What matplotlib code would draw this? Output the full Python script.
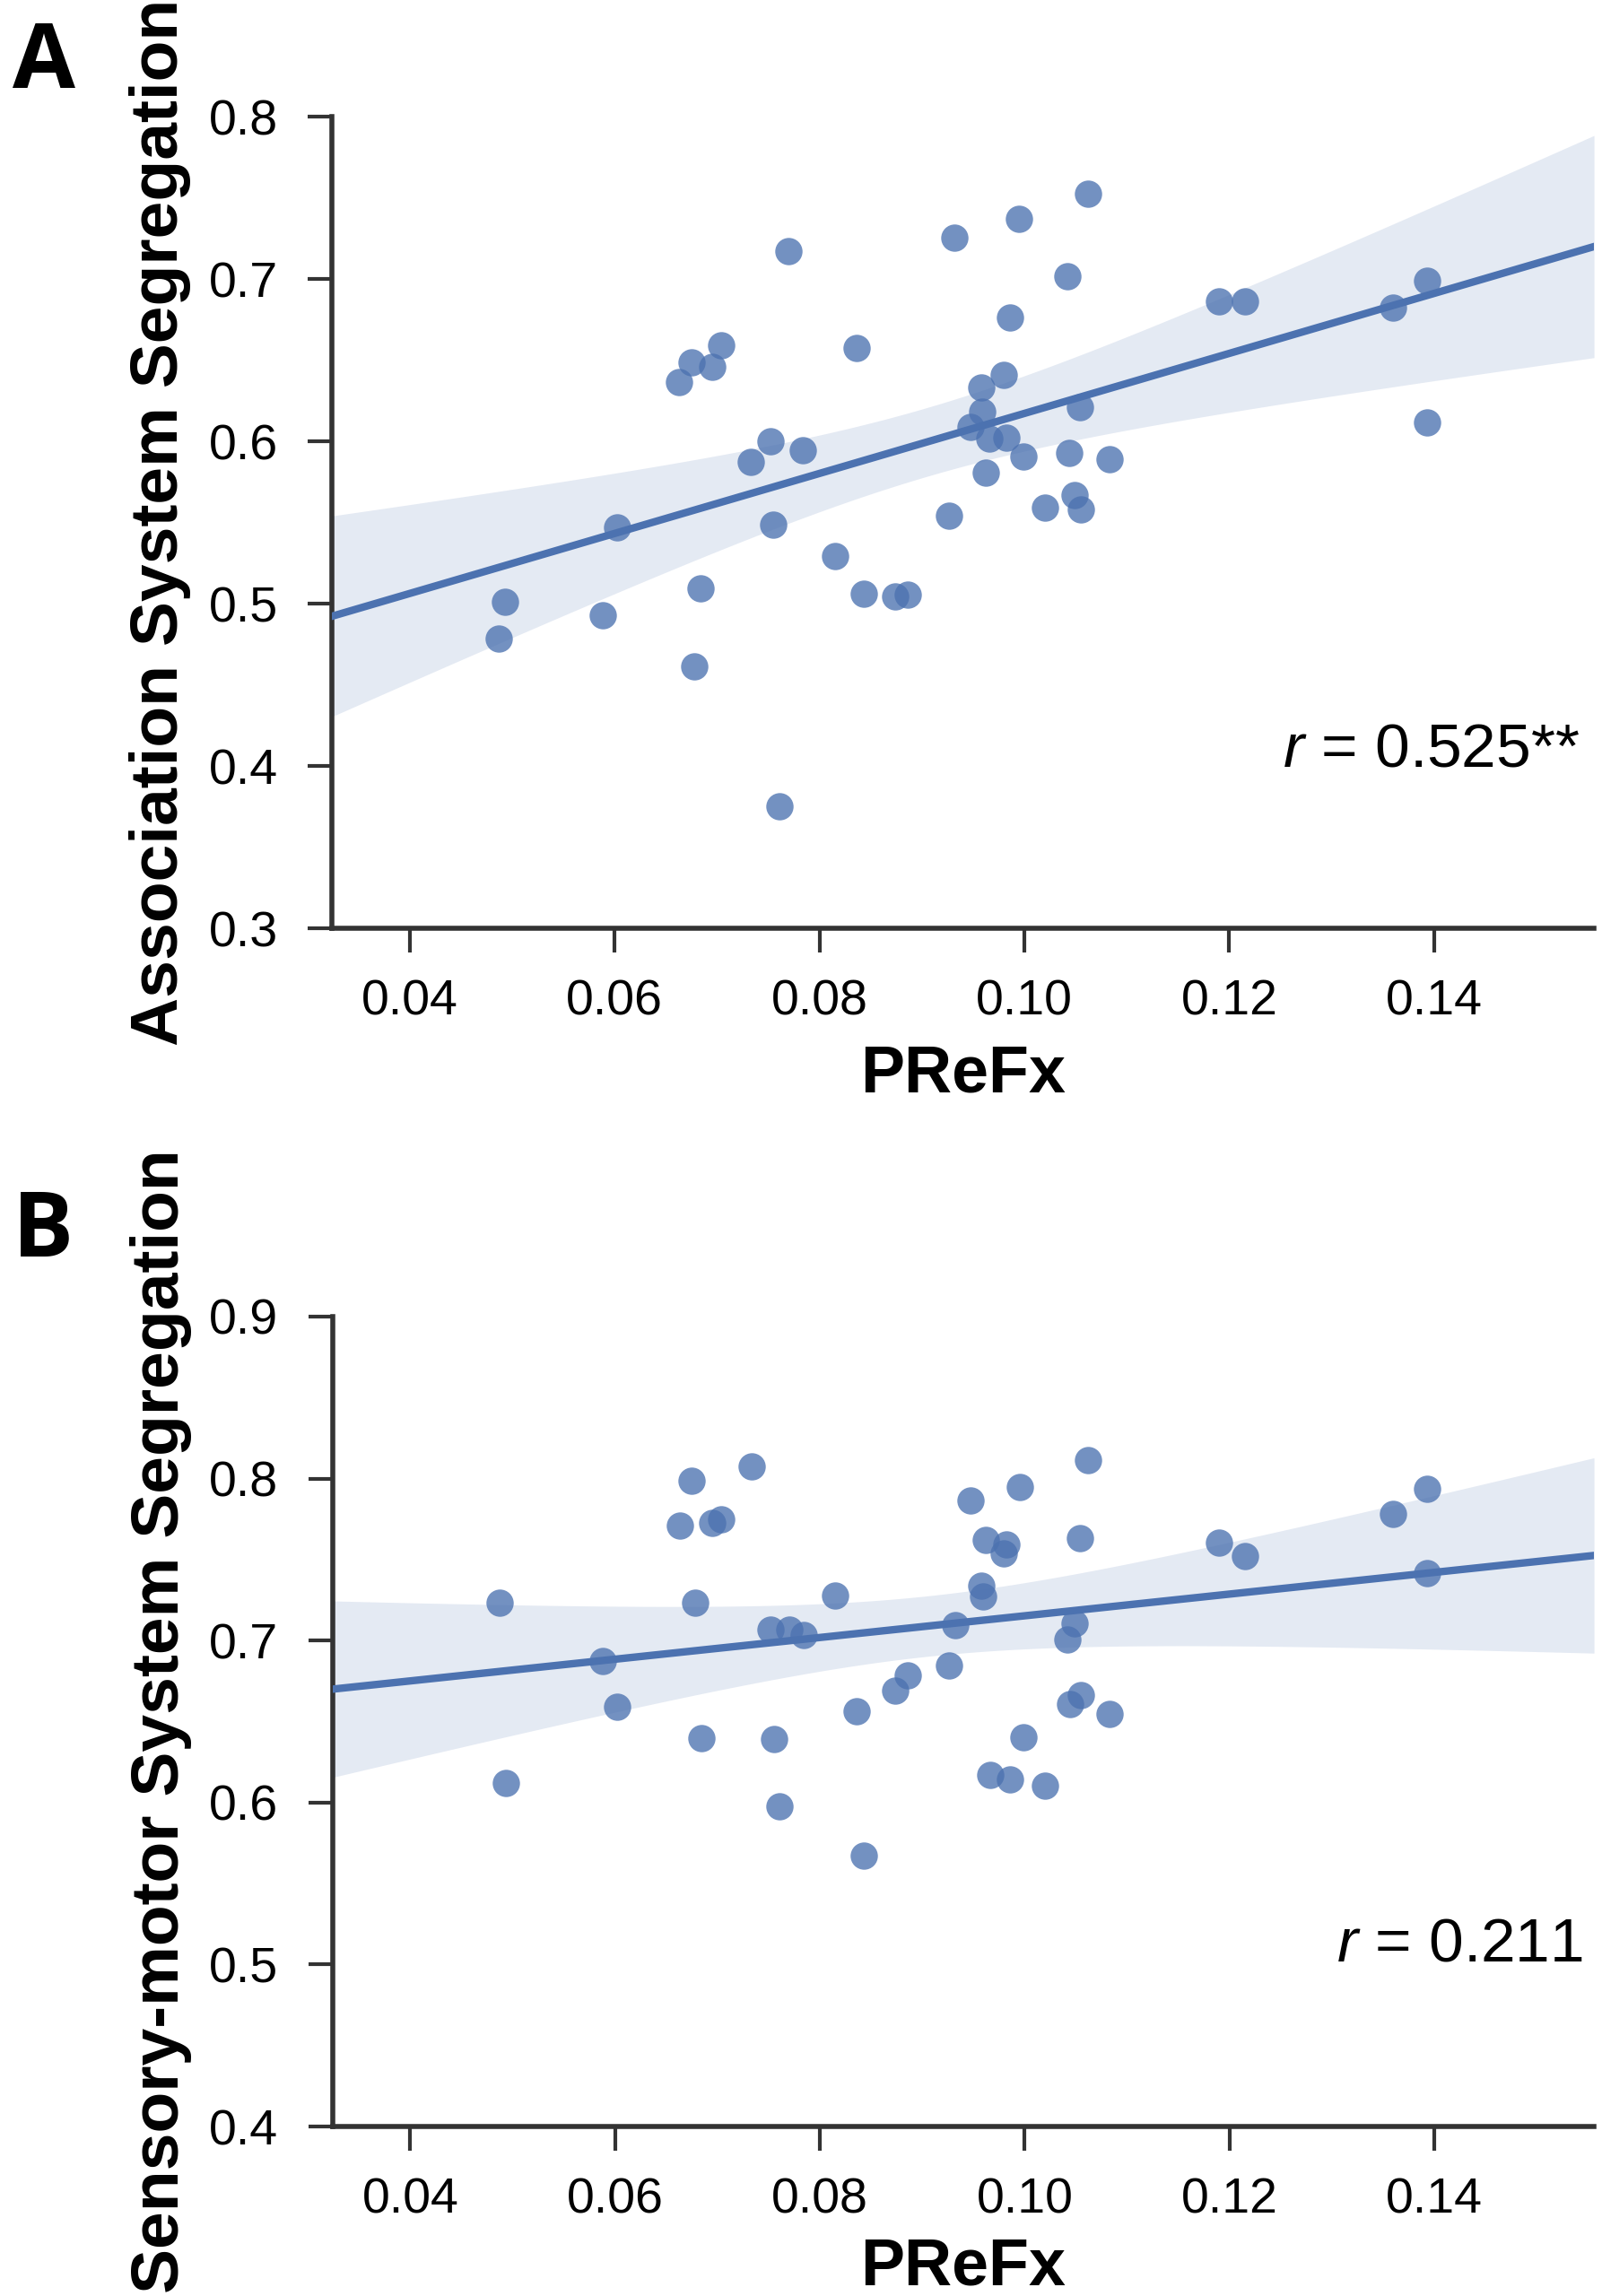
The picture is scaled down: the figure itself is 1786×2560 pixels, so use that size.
"""Two-panel scatter: PReFx vs. system segregation with regression fit and 95% CI."""

import matplotlib

matplotlib.use("Agg")
import matplotlib.pyplot as plt
import numpy as np

# PReFx per subject (shared by both panels)
prefx = [
    0.0487, 0.0493, 0.0588, 0.0602, 0.0663, 0.0675, 0.0678, 0.0684, 0.0695, 0.0704,
    0.0733, 0.0752, 0.0755, 0.0761, 0.0770, 0.0784, 0.0815, 0.0836, 0.0843, 0.0874,
    0.0886, 0.0926, 0.0932, 0.0947, 0.0958, 0.0959, 0.0962, 0.0966, 0.0980, 0.0982,
    0.0986, 0.0995, 0.0999, 0.1020, 0.1042, 0.1044, 0.1049, 0.1054, 0.1055, 0.1062,
    0.1083, 0.1190, 0.1215, 0.1360, 0.1393, 0.1393,
]

# Panel A: association system segregation
assoc_seg = [
    0.4785, 0.5013, 0.4929, 0.5468, 0.6366, 0.6486, 0.4614, 0.5093, 0.6460, 0.6593,
    0.5873, 0.6000, 0.5488, 0.3754, 0.7169, 0.5947, 0.5294, 0.6577, 0.5063, 0.5046,
    0.5053, 0.5539, 0.7257, 0.6091, 0.6332, 0.6182, 0.5806, 0.6017, 0.6409, 0.6024,
    0.6764, 0.7370, 0.5907, 0.5589, 0.7019, 0.5930, 0.5666, 0.6208, 0.5582, 0.7524,
    0.5887, 0.6861, 0.6861, 0.6821, 0.6989, 0.6118,
]

# Panel B: sensory-motor system segregation
sensmot_seg = [
    0.7235, 0.6121, 0.6872, 0.6592, 0.7709, 0.7986, 0.7232, 0.6398, 0.7727, 0.7747,
    0.8076, 0.7069, 0.6391, 0.5979, 0.7069, 0.7035, 0.7280, 0.6561, 0.5671, 0.6689,
    0.6785, 0.6844, 0.7093, 0.7862, 0.7339, 0.7270, 0.7623, 0.6173, 0.7536, 0.7595,
    0.6145, 0.7948, 0.6401, 0.6104, 0.7007, 0.6609, 0.7107, 0.7633, 0.6664, 0.8114,
    0.6547, 0.7606, 0.7522, 0.7779, 0.7938, 0.7415,
]

panels = [
    ("A", assoc_seg, "Association System Segregation", (0.3, 0.8), "$r$ = 0.525**"),
    ("B", sensmot_seg, "Sensory-motor System Segregation", (0.4, 0.9), "$r$ = 0.211"),
]

XLIM = (0.0324, 0.1556)
XTICKS = [0.04, 0.06, 0.08, 0.10, 0.12, 0.14]
T_975 = 2.015  # t critical value, df = 44

COLOR = "#4C72B0"
SPINE = "#333333"

plt.rcParams["font.family"] = ["Liberation Sans", "DejaVu Sans"]
plt.rcParams["mathtext.fontset"] = "custom"
plt.rcParams["mathtext.it"] = "Liberation Sans:italic"
plt.rcParams["mathtext.rm"] = "Liberation Sans"


def fit_with_ci(x, y, grid):
    """OLS line and 95% confidence band for the mean response."""
    x = np.asarray(x)
    y = np.asarray(y)
    n = len(x)
    slope, intercept = np.polyfit(x, y, 1)
    resid = y - (slope * x + intercept)
    s = np.sqrt(np.sum(resid**2) / (n - 2))
    sxx = np.sum((x - x.mean()) ** 2)
    fit = slope * grid + intercept
    half = T_975 * s * np.sqrt(1.0 / n + (grid - x.mean()) ** 2 / sxx)
    return fit, fit - half, fit + half


fig = plt.figure(figsize=(17.86, 25.6), dpi=100)
axes_rects = [
    [0.2072, 0.5957, 0.7878, 0.3535],
    [0.2075, 0.0738, 0.7875, 0.3528],
]
letter_y = [1 - 98 / 2560, 1 - 1401 / 2560]
r_pos = [(0.989, 0.199), (0.991, 0.204)]
xlabel_y = [-183 / 905, -176 / 903]

for (letter, yvals, ylabel, ylim, rtext), rect, ly, rp, xly in zip(
    panels, axes_rects, letter_y, r_pos, xlabel_y
):
    ax = fig.add_axes(rect)

    grid = np.linspace(XLIM[0], XLIM[1], 200)
    fit, lo, hi = fit_with_ci(prefx, yvals, grid)

    ax.fill_between(grid, lo, hi, color=COLOR, alpha=0.15, linewidth=0, zorder=1)
    ax.scatter(prefx, yvals, s=480, color=COLOR, alpha=0.78, linewidths=0, zorder=2)
    ax.plot(grid, fit, color=COLOR, linewidth=6, zorder=3)

    ax.set_xlim(*XLIM)
    ax.set_ylim(*ylim)
    ax.set_xticks(XTICKS)
    ax.set_xticklabels([f"{t:.2f}" for t in XTICKS])
    ax.set_yticks(np.round(np.arange(ylim[0], ylim[1] + 0.001, 0.1), 1))

    for side in ("top", "right"):
        ax.spines[side].set_visible(False)
    for side in ("left", "bottom"):
        ax.spines[side].set_linewidth(4)
        ax.spines[side].set_color(SPINE)

    ax.tick_params(axis="both", direction="out", length=19.5, width=3, color=SPINE,
                   labelsize=40, labelcolor="black")
    ax.tick_params(axis="y", pad=24)
    ax.tick_params(axis="x", pad=21)

    ax.set_xlabel("PReFx", fontsize=53, fontweight="bold")
    ax.xaxis.label.set_verticalalignment("baseline")
    ax.xaxis.set_label_coords(0.5, xly)

    ax.set_ylabel(ylabel, fontsize=54, fontweight="bold")
    ax.yaxis.label.set_verticalalignment("baseline")
    ax.yaxis.set_label_coords((198 - 370) / 1407, 0.5)

    ax.text(rp[0], rp[1], rtext, transform=ax.transAxes, ha="right", va="baseline",
            fontsize=50)

    fig.text(14 / 1786, ly, letter, ha="left", va="baseline", fontsize=73,
             fontweight="bold", family=["Open Sans", "DejaVu Sans"])

fig.savefig("out.png", dpi=100)
